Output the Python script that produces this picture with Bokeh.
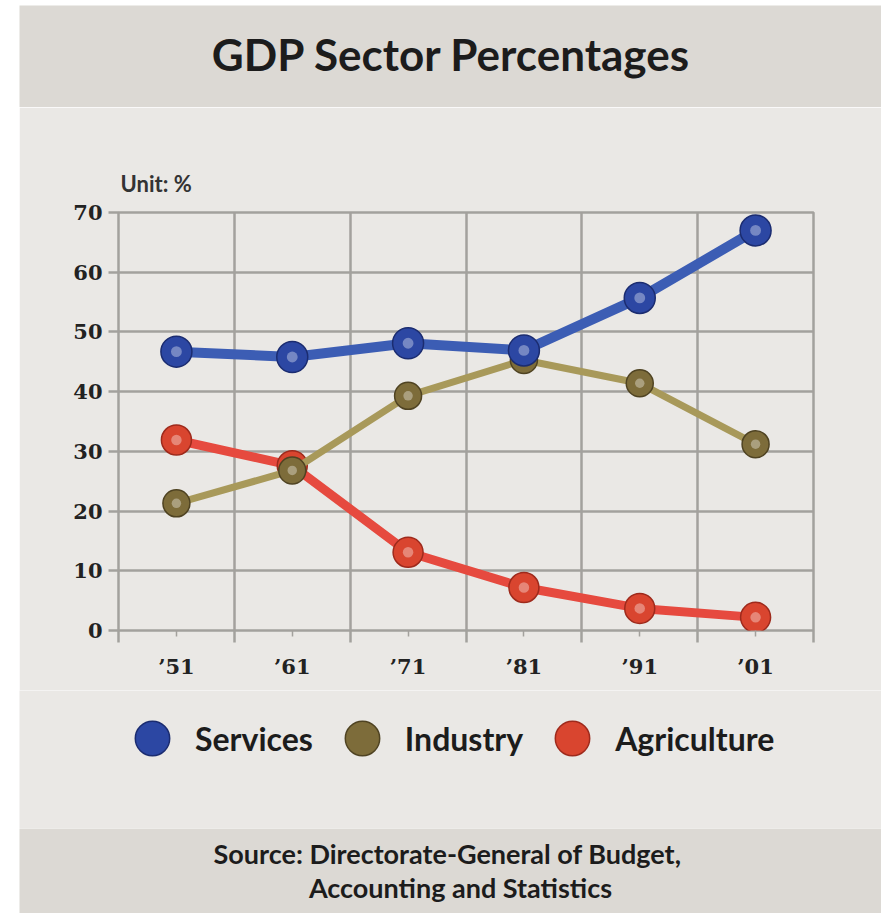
from bokeh.plotting import figure
from bokeh.models import (Range1d, FixedTicker, Legend, LegendItem, Label,
                          ColumnDataSource, Spacer)
from bokeh.layouts import row, column
from bokeh.embed import file_html
from bokeh.resources import INLINE

# ---------------- data ----------------
years = ["\u201951", "\u201961", "\u201971", "\u201981", "\u201991", "\u201901"]
services = [46.7, 45.8, 48.1, 46.9, 55.7, 67.0]
industry = [21.3, 26.8, 39.3, 45.3, 41.4, 31.2]
agriculture = [31.9, 27.6, 13.1, 7.2, 3.7, 2.2]
y_ticks = [0, 10, 20, 30, 40, 50, 60, 70]
legend_order = ["Services", "Industry", "Agriculture"]

title_text = "GDP Sector Percentages"
unit_text = "Unit: %"
source_lines = ["Source: Directorate-General of Budget,",
                "Accounting and Statistics"]

# ---------------- style ----------------
BAND = "#dcd9d4"
PANEL = "#eae8e5"
GRID = "#a3a19d"
TEXT = "#1c1c1c"
SANS = "Lato"
SERIF = "DejaVu Serif"

series = [
    ("Agriculture", agriculture, "#e64a3f", "#d9452f", "#9e2a1c", 9, 30),
    ("Industry", industry, "#a8995a", "#7d6c3a", "#4f4322", 7, 27),
    ("Services", services, "#3c5db4", "#2c47a3", "#1b2c70", 10, 31),
]
series_vals = {s[0]: s[1] for s in series}

n = len(years)
centers = [i + 0.5 for i in range(n)]
bounds = list(range(n + 1))


def band_fig(h, color, xr=(0, 1)):
    f = figure(width=862, height=h, x_range=Range1d(*xr), y_range=Range1d(0, 1),
               output_backend="svg", toolbar_location=None, min_border=0,
               x_axis_type=None, y_axis_type=None, frame_align=False,
               background_fill_color=color, border_fill_color=color,
               outline_line_color=None)
    f.grid.visible = False
    return f


# ---------------- top band ----------------
top = band_fig(102, BAND)
top.add_layout(Label(x=432, y=54, x_units="screen", y_units="screen",
                     text=title_text, text_align="center",
                     text_baseline="middle", text_font=SANS,
                     text_font_style="bold", text_font_size="44px",
                     text_color=TEXT))

# ---------------- main chart ----------------
p = figure(width=862, height=583, x_range=Range1d(0, n), y_range=Range1d(0, 70),
           output_backend="svg", toolbar_location=None, frame_align=False,
           min_border_left=99, min_border_right=68,
           min_border_top=105, min_border_bottom=60,
           background_fill_color=PANEL, border_fill_color=PANEL,
           outline_line_color=GRID, outline_line_width=2.5,
           title=unit_text, title_location="above")
p.title.align = "left"
p.title.offset = 2
p.title.standoff = 31
p.title.text_font = SANS
p.title.text_font_style = "bold"
p.title.text_font_size = "22px"
p.title.text_color = "#333333"

p.xaxis.ticker = FixedTicker(ticks=centers, minor_ticks=bounds)
p.xaxis.major_label_overrides = {c: lab for c, lab in zip(centers, years)}
p.xaxis.axis_line_color = None
p.xaxis.major_tick_out = 6
p.xaxis.major_tick_in = 0
p.xaxis.major_tick_line_color = GRID
p.xaxis.major_tick_line_width = 1.5
p.xaxis.minor_tick_out = 12
p.xaxis.minor_tick_in = 0
p.xaxis.minor_tick_line_color = GRID
p.xaxis.minor_tick_line_width = 2.5
p.xaxis.major_label_standoff = 11
p.xaxis.major_label_text_font = SERIF
p.xaxis.major_label_text_font_style = "bold"
p.xaxis.major_label_text_font_size = "21px"
p.xaxis.major_label_text_color = "#222222"

p.yaxis.ticker = FixedTicker(ticks=y_ticks)
p.yaxis.axis_line_color = None
p.yaxis.major_tick_out = 10
p.yaxis.major_tick_in = 0
p.yaxis.major_tick_line_color = GRID
p.yaxis.major_tick_line_width = 2.5
p.yaxis.minor_tick_line_color = None
p.yaxis.major_label_standoff = 6
p.yaxis.major_label_text_font = SERIF
p.yaxis.major_label_text_font_style = "bold"
p.yaxis.major_label_text_font_size = "21px"
p.yaxis.major_label_text_color = "#222222"

p.xgrid.ticker = FixedTicker(ticks=bounds)
for g in (p.xgrid, p.ygrid):
    g.grid_line_color = GRID
    g.grid_line_width = 2.5

ball_style = {}
for name, vals, line_col, ball_col, edge_col, lw, size in series:
    src = ColumnDataSource(dict(x=centers, y=vals))
    p.line("x", "y", source=src, line_color=line_col, line_width=lw,
           line_join="round", line_cap="round")
    p.scatter("x", "y", source=src, size=size, marker="circle",
              fill_color=ball_col, line_color=edge_col, line_width=1.5)
    p.scatter("x", "y", source=src, size=size * 0.35, marker="circle",
              fill_color="white", fill_alpha=0.35, line_color=None)
    ball_style[name] = dict(fill_color=ball_col, line_color=edge_col)

# ---------------- legend band ----------------
# the legend figure's own range lies away from the data, so only the legend shows
leg = band_fig(138, PANEL, xr=(100, 101))
items = []
for nm in legend_order:
    r = leg.scatter(x=centers, y=series_vals[nm], marker="circle",
                    line_width=1.5, **ball_style[nm])
    items.append(LegendItem(label=nm, renderers=[r]))
legend = Legend(items=items, orientation="horizontal", location=(90, 47),
                glyph_width=86, glyph_height=86, label_standoff=0,
                spacing=6, padding=0, margin=0,
                background_fill_alpha=0, border_line_alpha=0,
                label_text_font=SANS, label_text_font_style="bold",
                label_text_font_size="32px", label_text_color=TEXT)
leg.add_layout(legend, "center")

# ---------------- bottom band ----------------
bot = band_fig(85, BAND)
for (txt, xs, ys) in zip(source_lines, [428, 441], [60, 26]):
    bot.add_layout(Label(x=xs, y=ys, x_units="screen", y_units="screen",
                         text=txt, text_align="center",
                         text_baseline="middle", text_font=SANS,
                         text_font_style="bold", text_font_size="27px",
                         text_color=TEXT))

layout = row(Spacer(width=19),
             column(Spacer(height=5), top, p, leg, bot))

open("out.html", "w").write(file_html(layout, INLINE))
